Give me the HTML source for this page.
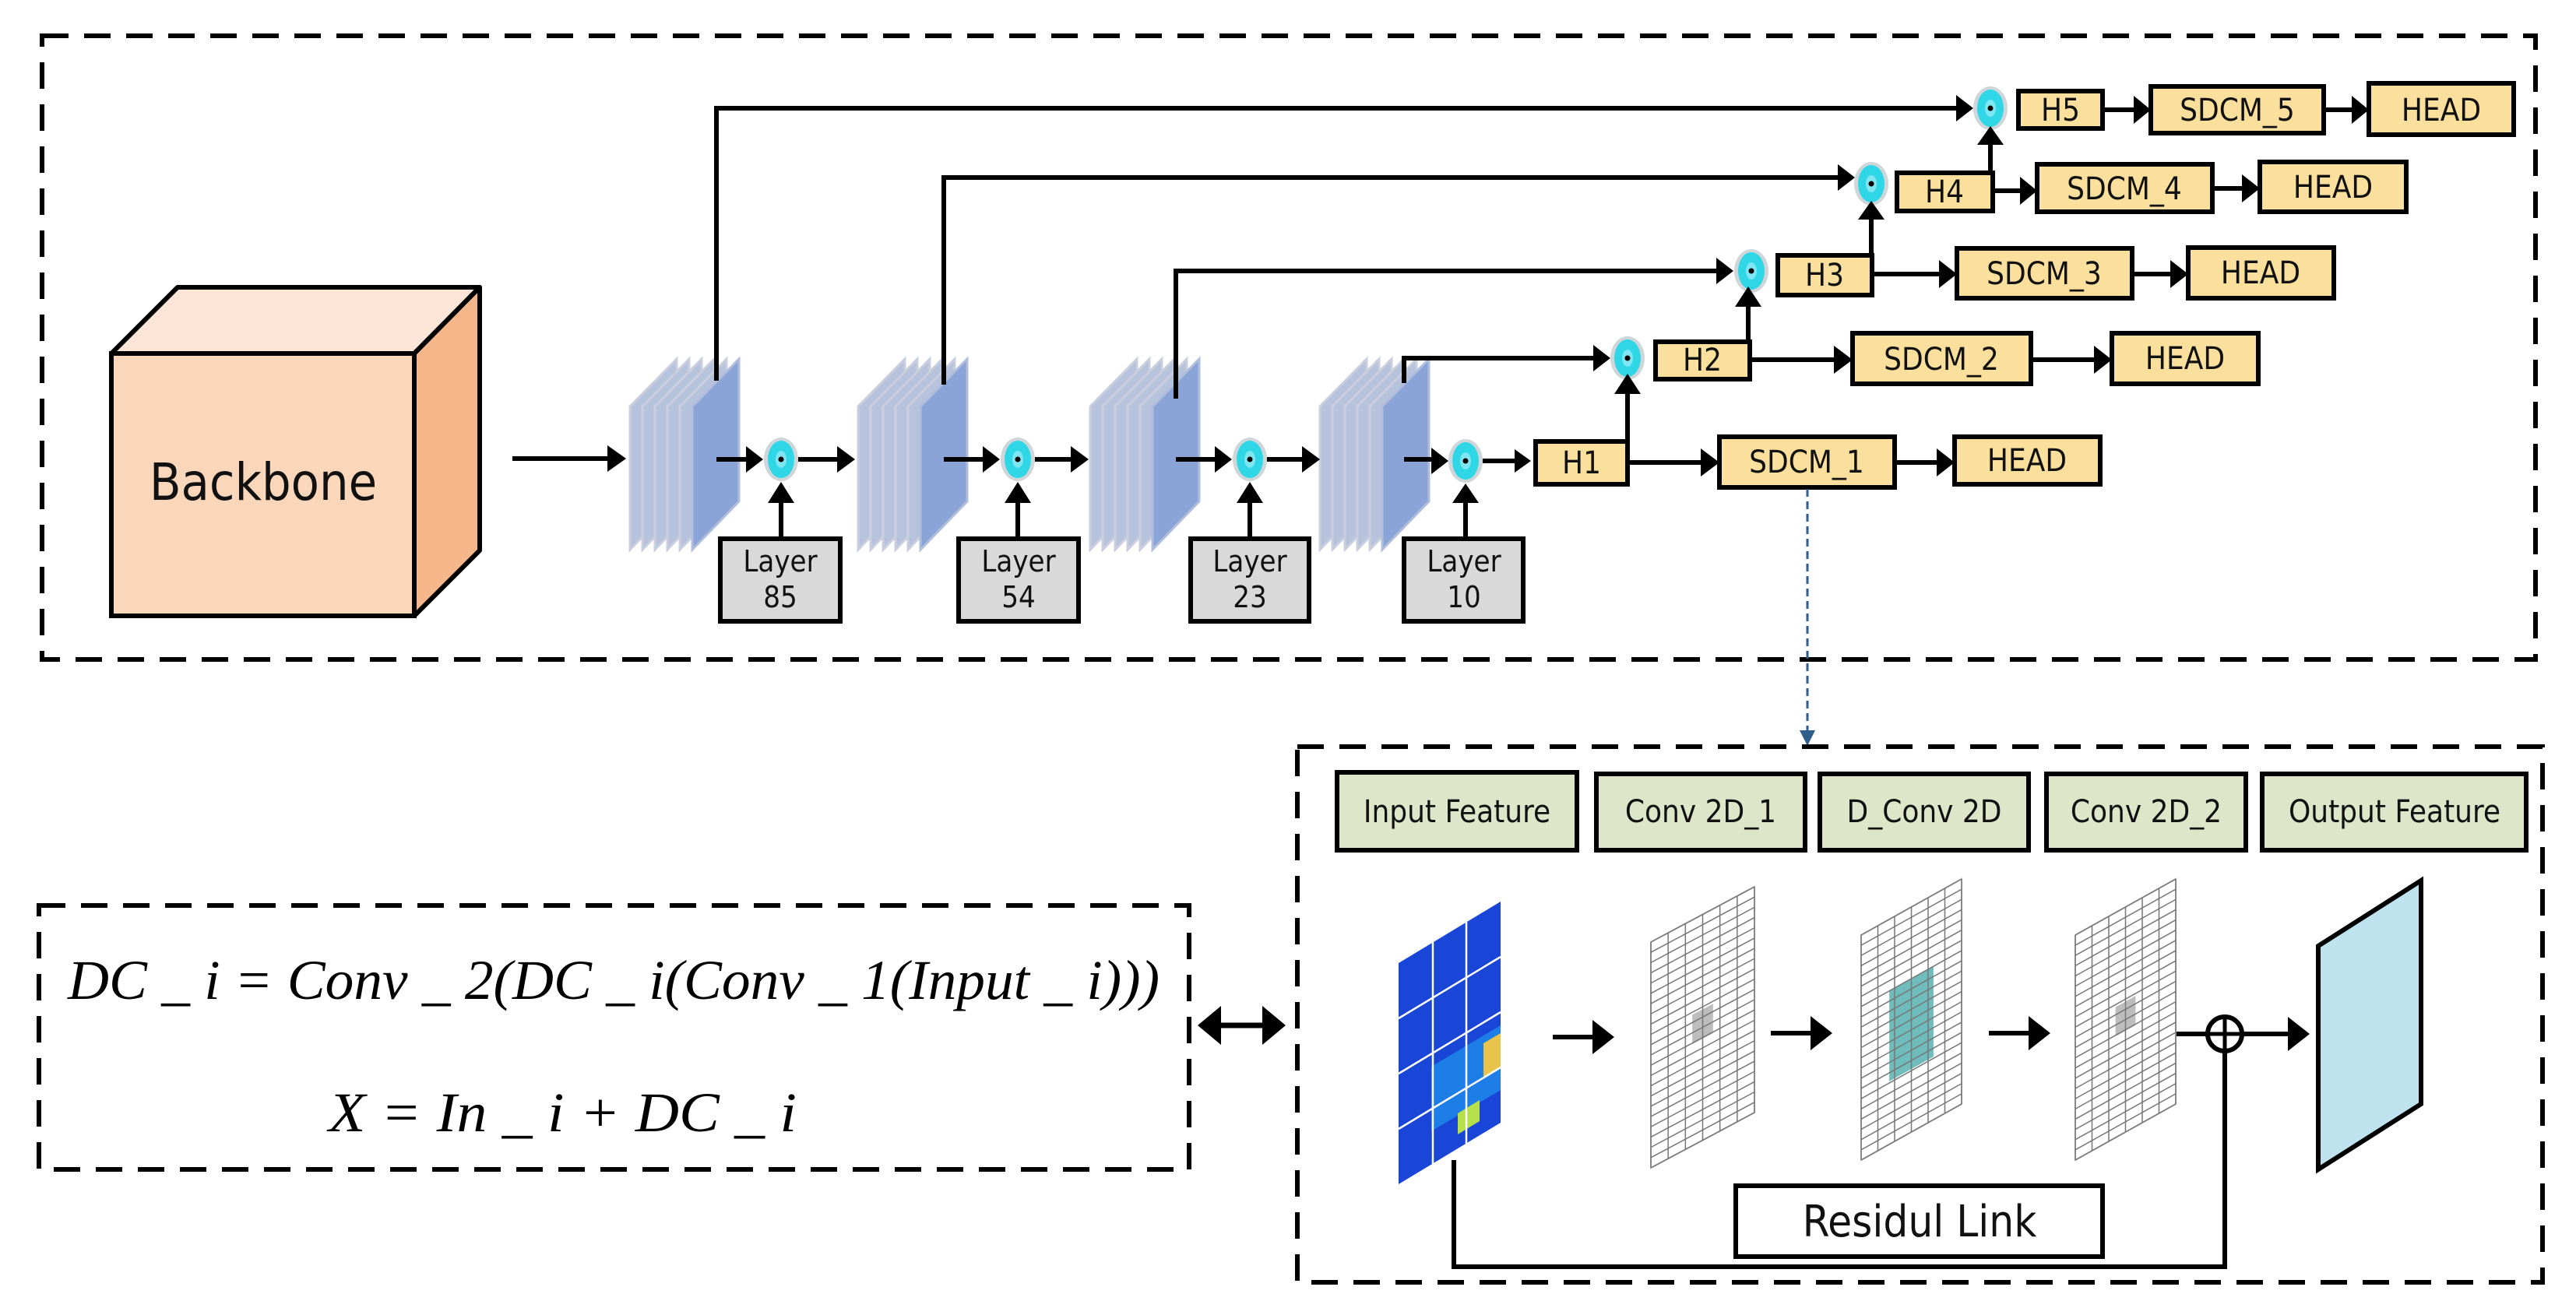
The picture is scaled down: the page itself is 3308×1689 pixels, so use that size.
<!DOCTYPE html>
<html><head><meta charset="utf-8">
<style>
html,body{margin:0;padding:0;background:#fff;}
svg{display:block;}
text{font-family:"DejaVu Sans Condensed","Liberation Sans",sans-serif;}
.f{font-family:"Liberation Serif",serif;font-style:italic;}
</style></head>
<body>
<svg id="s" width="3308" height="1689" viewBox="0 0 3308 1689" xmlns="http://www.w3.org/2000/svg">
<defs>
<g id="stk">
  <polygon points="-140,61 -80,0 -80,183 -140,245" fill="#b7c2dc" stroke="#c9cfdc" stroke-width="3"/>
  <polygon points="-124,61 -64,0 -64,183 -124,245" fill="#b7c2dc" stroke="#c9cfdc" stroke-width="3"/>
  <polygon points="-108,61 -48,0 -48,183 -108,245" fill="#b7c2dc" stroke="#c9cfdc" stroke-width="3"/>
  <polygon points="-92,61 -32,0 -32,183 -92,245" fill="#b7c2dc" stroke="#c9cfdc" stroke-width="3"/>
  <polygon points="-76,61 -16,0 -16,183 -76,245" fill="#b7c2dc" stroke="#c9cfdc" stroke-width="3"/>
  <polygon points="-60,61 0,0 0,183 -60,245" fill="#8aa4d8" stroke="#b0bedc" stroke-width="3"/>
</g>
<g id="cir">
  <ellipse cx="0" cy="0" rx="22" ry="28" fill="#cfd6da"/>
  <ellipse cx="0" cy="0" rx="17" ry="24" fill="#2fd6e6"/>
  <ellipse cx="0" cy="0" rx="7" ry="11" fill="#7ee6f0"/>
  <circle cx="0" cy="0" r="3.5" fill="#000"/>
</g>
</defs>

<rect x="54" y="46" width="3202" height="801" fill="none" stroke="#000" stroke-width="6" stroke-dasharray="34,20"/>

<polygon points="143,454 228,369 616,369 532,454" fill="#fde6d8" stroke="#000" stroke-width="6" stroke-linejoin="round"/>
<polygon points="532,454 616,369 616,707 532,791" fill="#f5b78a" stroke="#000" stroke-width="6" stroke-linejoin="round"/>
<rect x="143" y="454" width="389" height="337" fill="#fad6bb" stroke="#000" stroke-width="6"/>
<text x="338" y="642" font-size="66" text-anchor="middle" fill="#111">Backbone</text>

<line x1="658" y1="589" x2="780" y2="589" stroke="#000" stroke-width="6"/>
<polygon points="780,572 804,589 780,606"/>

<use href="#stk" x="949" y="461"/>
<use href="#stk" x="1242" y="461"/>
<use href="#stk" x="1540" y="461"/>
<use href="#stk" x="1835" y="461"/>

<g stroke="#000" stroke-width="6" fill="none">
<polyline points="920,489 920,139 2520,139"/>
<polyline points="1212,494 1212,228 2368,228"/>
<polyline points="1510,512 1510,348 2212,348"/>
<polyline points="1803,492 1803,460 2054,460"/>
</g>
<g>
<polygon points="2512,122 2534,139 2512,156"/>
<polygon points="2360,211 2382,228 2360,245"/>
<polygon points="2204,331 2226,348 2204,365"/>
<polygon points="2046,443 2068,460 2046,477"/>
</g>

<g stroke="#000" stroke-width="6">
<line x1="920" y1="590" x2="966" y2="590"/>
<line x1="1025" y1="590" x2="1075" y2="590"/>
<line x1="1212" y1="590" x2="1270" y2="590"/>
<line x1="1329" y1="590" x2="1375" y2="590"/>
<line x1="1510" y1="590" x2="1568" y2="590"/>
<line x1="1627" y1="590" x2="1672" y2="590"/>
<line x1="1803" y1="590" x2="1845" y2="590"/>
<line x1="1904" y1="592" x2="1945" y2="592"/>
<line x1="1003" y1="692" x2="1003" y2="640"/>
<line x1="1307" y1="692" x2="1307" y2="640"/>
<line x1="1605" y1="692" x2="1605" y2="640"/>
<line x1="1882" y1="692" x2="1882" y2="640"/>
</g>
<g>
<polygon points="958,573 980,590 958,607"/>
<polygon points="1075,573 1098,590 1075,607"/>
<polygon points="1262,573 1284,590 1262,607"/>
<polygon points="1375,573 1398,590 1375,607"/>
<polygon points="1560,573 1582,590 1560,607"/>
<polygon points="1672,573 1695,590 1672,607"/>
<polygon points="1838,575 1860,592 1838,609"/>
<polygon points="1945,577 1966,592 1945,607"/>
<polygon points="986,646 1003,619 1020,646"/>
<polygon points="1290,646 1307,619 1324,646"/>
<polygon points="1588,646 1605,619 1622,646"/>
<polygon points="1865,646 1882,621 1899,646"/>
</g>
<use href="#cir" x="1003" y="590"/>
<use href="#cir" x="1307" y="590"/>
<use href="#cir" x="1605" y="590"/>
<use href="#cir" x="1882" y="592"/>
<use href="#cir" x="2090" y="460"/>
<use href="#cir" x="2249" y="348"/>
<use href="#cir" x="2403" y="236"/>
<use href="#cir" x="2556" y="139"/>

<g fill="#d9d9d9" stroke="#000" stroke-width="6">
<rect x="925" y="692" width="154" height="106"/>
<rect x="1231" y="692" width="154" height="106"/>
<rect x="1529" y="692" width="152" height="106"/>
<rect x="1803" y="692" width="153" height="106"/>
</g>
<g font-size="38" text-anchor="middle" fill="#111">
<text x="1002" y="734">Layer</text><text x="1002" y="780">85</text>
<text x="1308" y="734">Layer</text><text x="1308" y="780">54</text>
<text x="1605" y="734">Layer</text><text x="1605" y="780">23</text>
<text x="1880" y="734">Layer</text><text x="1880" y="780">10</text>
</g>

<g stroke="#000" stroke-width="6">
<line x1="2090" y1="567" x2="2090" y2="505"/>
<line x1="2245" y1="439" x2="2245" y2="393"/>
<line x1="2403" y1="328" x2="2403" y2="281"/>
<line x1="2556" y1="222" x2="2556" y2="185"/>
<line x1="2090" y1="594" x2="2185" y2="594"/><line x1="2433" y1="594" x2="2488" y2="594"/>
<line x1="2247" y1="462" x2="2356" y2="462"/><line x1="2608" y1="462" x2="2690" y2="462"/>
<line x1="2404" y1="352" x2="2490" y2="352"/><line x1="2738" y1="352" x2="2788" y2="352"/>
<line x1="2559" y1="245" x2="2594" y2="245"/><line x1="2841" y1="242" x2="2880" y2="242"/>
<line x1="2700" y1="141" x2="2740" y2="141"/><line x1="2984" y1="141" x2="3020" y2="141"/>
</g>
<g>
<polygon points="2073,506 2090,480 2107,506"/>
<polygon points="2228,394 2245,368 2262,394"/>
<polygon points="2386,282 2403,258 2420,282"/>
<polygon points="2539,186 2556,162 2573,186"/>
<polygon points="2184,576 2208,594 2184,612"/><polygon points="2487,576 2510,594 2487,612"/>
<polygon points="2355,444 2379,462 2355,480"/><polygon points="2689,444 2712,462 2689,480"/>
<polygon points="2490,334 2513,352 2490,370"/><polygon points="2787,334 2810,352 2787,370"/>
<polygon points="2594,227 2616,245 2594,263"/><polygon points="2879,224 2902,242 2879,260"/>
<polygon points="2740,123 2762,141 2740,159"/><polygon points="3020,123 3042,141 3020,159"/>
</g>

<g fill="#fbdf9d" stroke="#000" stroke-width="6">
<rect x="2592" y="117" width="108" height="48"/>
<rect x="2762" y="111" width="222" height="60"/>
<rect x="3042" y="107" width="186" height="66"/>
<rect x="2436" y="222" width="123" height="49"/>
<rect x="2616" y="211" width="225" height="61"/>
<rect x="2902" y="208" width="188" height="64"/>
<rect x="2283" y="328" width="121" height="51"/>
<rect x="2513" y="319" width="225" height="64"/>
<rect x="2810" y="318" width="187" height="65"/>
<rect x="2126" y="439" width="121" height="48"/>
<rect x="2379" y="428" width="229" height="65"/>
<rect x="2712" y="428" width="188" height="65"/>
<rect x="1972" y="567" width="118" height="55"/>
<rect x="2208" y="561" width="225" height="65"/>
<rect x="2510" y="561" width="187" height="61"/>
</g>
<g font-size="40" text-anchor="middle" fill="#111">
<text x="2646" y="155">H5</text><text x="2873" y="155">SDCM_5</text><text x="3135" y="155">HEAD</text>
<text x="2497" y="260">H4</text><text x="2728" y="256">SDCM_4</text><text x="2996" y="254">HEAD</text>
<text x="2343" y="367">H3</text><text x="2625" y="365">SDCM_3</text><text x="2903" y="364">HEAD</text>
<text x="2186" y="476">H2</text><text x="2493" y="475">SDCM_2</text><text x="2806" y="474">HEAD</text>
<text x="2031" y="608">H1</text><text x="2320" y="607">SDCM_1</text><text x="2603" y="605">HEAD</text>
</g>

<line x1="2321" y1="628" x2="2321" y2="940" stroke="#2f5d8c" stroke-width="3" stroke-dasharray="10,6"/>
<polygon points="2311,938 2321,958 2331,938" fill="#2f5d8c"/>

<rect x="1666" y="959" width="1599" height="688" fill="none" stroke="#000" stroke-width="6" stroke-dasharray="34,20"/>
<g fill="#dde6c9" stroke="#000" stroke-width="6">
<rect x="1717" y="992" width="308" height="100"/>
<rect x="2050" y="994" width="268" height="98"/>
<rect x="2337" y="994" width="268" height="98"/>
<rect x="2628" y="994" width="256" height="98"/>
<rect x="2905" y="994" width="339" height="98"/>
</g>
<g font-size="40" text-anchor="middle" fill="#111">
<text x="1871" y="1056">Input Feature</text>
<text x="2184" y="1056">Conv 2D_1</text>
<text x="2471" y="1056">D_Conv 2D</text>
<text x="2756" y="1056">Conv 2D_2</text>
<text x="3075" y="1056">Output Feature</text>
</g>

<polygon points="1796,1237 1927,1158 1927,1442 1796,1521" fill="#1a46d8"/>
<polygon points="1838,1370 1927,1317 1927,1400 1838,1453" fill="#1e7ee8"/>
<polygon points="1905,1340 1927,1327 1927,1370 1905,1383" fill="#e8c44a"/>
<polygon points="1872,1430 1900,1413 1900,1440 1872,1457" fill="#b6e04a"/>
<g stroke="#fff" stroke-width="2.5">
<line x1="1840" y1="1210" x2="1840" y2="1495"/>
<line x1="1883" y1="1184" x2="1883" y2="1469"/>
<line x1="1796" y1="1308" x2="1927" y2="1229"/>
<line x1="1796" y1="1379" x2="1927" y2="1300"/>
<line x1="1796" y1="1450" x2="1927" y2="1371"/>
</g>

<g stroke="#000" stroke-width="6">
<line x1="1994" y1="1332" x2="2050" y2="1332"/>
<line x1="2274" y1="1327" x2="2330" y2="1327"/>
<line x1="2554" y1="1327" x2="2610" y2="1327"/>
<line x1="2760" y1="1328" x2="2940" y2="1328"/>
</g>
<polygon points="2045,1310 2073,1332 2045,1354"/>
<polygon points="2325,1305 2353,1327 2325,1349"/>
<polygon points="2605,1305 2633,1327 2605,1349"/>
<polygon points="2938,1306 2966,1328 2938,1350"/>

<g id="grids"></g>

<circle cx="2857" cy="1328" r="22" fill="#fff" stroke="#000" stroke-width="6"/>
<line x1="2857" y1="1306" x2="2857" y2="1350" stroke="#000" stroke-width="5"/>
<line x1="2835" y1="1328" x2="2879" y2="1328" stroke="#000" stroke-width="5"/>

<polygon points="2977,1215 3109,1131 3109,1418 2977,1502" fill="#bfe3ee" stroke="#000" stroke-width="6"/>

<polyline points="1867,1490 1867,1627 2857,1627 2857,1350" fill="none" stroke="#000" stroke-width="6"/>
<rect x="2229" y="1523" width="471" height="91" fill="#fff" stroke="#000" stroke-width="6"/>
<text x="2465" y="1588" font-size="56" text-anchor="middle" fill="#111">Residul Link</text>

<rect x="50" y="1163" width="1477" height="339" fill="none" stroke="#000" stroke-width="6" stroke-dasharray="34,20"/>
<text class="f" x="87" y="1283" font-size="72" textLength="1402" lengthAdjust="spacingAndGlyphs">DC _ i  =  Conv _ 2(DC _ i(Conv _ 1(Input _ i)))</text>
<text class="f" x="422" y="1453" font-size="72" textLength="601" lengthAdjust="spacingAndGlyphs">X  = In _ i  + DC _ i</text>

<line x1="1560" y1="1317" x2="1630" y2="1317" stroke="#000" stroke-width="7"/>
<polygon points="1538,1317 1568,1292 1568,1342"/>
<polygon points="1651,1317 1621,1292 1621,1342"/>
</svg>
<script>
(function(){
var NS="http://www.w3.org/2000/svg",g=document.getElementById("grids");
function el(n,a){var e=document.createElementNS(NS,n);for(var k in a)e.setAttribute(k,a[k]);g.appendChild(e);return e;}
function plane(L,R,yLT,yLB,yRT,hl,hlc){
  var dy=yLT-yRT,cols=6,rows=22,h=yLB-yLT;
  el("polygon",{points:L+","+yLT+" "+R+","+yRT+" "+R+","+(yRT+h)+" "+L+","+yLB,fill:"#fff",stroke:"#bbb","stroke-width":2});
  if(hl){var x0=L+(R-L)*hl[0],x1=L+(R-L)*hl[1],t0=hl[2],t1=hl[3];
    var p=function(x,t){return x+","+(yLT-dy*(x-L)/(R-L)+h*t);};
    el("polygon",{points:p(x0,t0)+" "+p(x1,t0)+" "+p(x1,t1)+" "+p(x0,t1),fill:hlc});}
  for(var i=0;i<=cols;i++){var x=L+(R-L)*i/cols,y=yLT-dy*i/cols;
    el("line",{x1:x,y1:y,x2:x,y2:y+h,stroke:"#777","stroke-width":1.5});}
  for(var j=0;j<=rows;j++){var t=h*j/rows;
    el("line",{x1:L,y1:yLT+t,x2:R,y2:yRT+t,stroke:"#777","stroke-width":1.5});}
}
plane(2120,2253,1210,1500,1139,[0.4,0.6,0.42,0.55],"#bdbdbd");
plane(2390,2519,1201,1490,1129,[0.28,0.72,0.32,0.72],"#6fbcbc");
plane(2665,2794,1201,1490,1129,[0.4,0.6,0.42,0.55],"#bdbdbd");
})();
</script>
</body></html>
